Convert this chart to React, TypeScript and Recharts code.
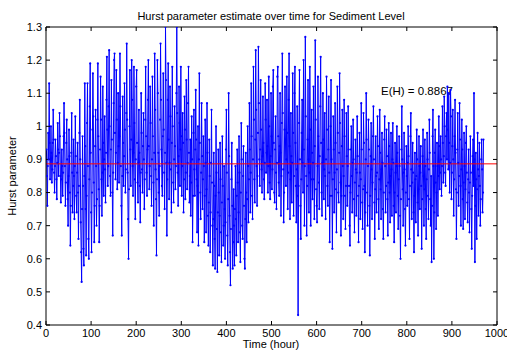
import { LineChart, Line, XAxis, YAxis, ReferenceLine } from 'recharts';

// Hurst estimate per hour (hours 1..970)
const hurst = [
  0.93, 0.85, 0.76, 0.88, 0.98, 0.90, 1.13, 0.95, 0.84, 0.90,
  1.00, 0.92, 0.83, 0.87, 0.95, 1.05, 0.96, 0.86, 0.80, 0.88,
  0.96, 0.91, 0.84, 0.78, 0.89, 1.01, 0.93, 0.85, 0.92, 1.04,
  0.97, 0.85, 0.77, 0.84, 0.93, 0.88, 0.79, 0.86, 0.97, 1.07,
  0.98, 0.88, 0.76, 0.83, 0.95, 1.02, 0.90, 0.78, 0.70, 0.85,
  0.99, 0.91, 0.80, 0.64, 0.76, 0.92, 1.04, 0.86, 0.74, 0.82,
  0.96, 0.85, 0.72, 0.88, 1.03, 0.91, 0.79, 0.74, 0.86, 0.95,
  0.80, 0.66, 0.82, 0.98, 1.08, 0.90, 0.71, 0.62, 0.53, 0.75,
  0.97, 0.82, 0.63, 0.58, 0.85, 1.13, 0.94, 0.75, 0.61, 0.79,
  1.01, 1.13, 0.88, 0.66, 0.60, 0.84, 1.06, 1.19, 0.92, 0.74,
  0.62, 0.80, 0.99, 1.16, 1.03, 0.83, 0.65, 0.76, 0.94, 1.05,
  0.88, 0.70, 0.78, 1.02, 1.19, 0.97, 0.81, 0.65, 0.76, 0.93,
  1.15, 1.02, 0.84, 0.73, 0.86, 1.12, 0.95, 0.79, 0.90, 1.03,
  0.87, 0.77, 0.92, 1.08, 1.21, 0.99, 0.82, 0.88, 1.06, 1.23,
  1.00, 0.85, 0.79, 0.93, 1.14, 0.96, 0.80, 0.67, 0.86, 1.07,
  1.20, 1.22, 0.98, 0.84, 0.92, 1.17, 1.02, 0.81, 0.89, 1.10,
  0.94, 0.83, 0.97, 1.22, 1.06, 0.88, 0.76, 0.67, 0.85, 1.09,
  0.95, 0.82, 0.91, 1.13, 0.99, 0.80, 0.87, 1.04, 1.25, 1.02,
  0.86, 0.72, 0.60, 0.81, 1.00, 1.17, 0.93, 0.82, 0.96, 1.20,
  1.08, 0.88, 0.79, 0.92, 1.18, 1.01, 0.84, 0.72, 0.90, 1.12,
  1.17, 0.95, 0.83, 0.77, 0.89, 1.05, 0.92, 0.82, 0.71, 0.86,
  1.10, 0.98, 0.87, 0.80, 0.94, 1.04, 0.90, 0.75, 0.84, 1.02,
  1.18, 0.97, 0.86, 0.79, 0.93, 1.08, 1.20, 0.94, 0.81, 0.88,
  1.12, 1.01, 0.85, 0.76, 0.90, 1.15, 0.97, 0.83, 0.70, 0.92,
  1.22, 1.05, 0.87, 0.78, 0.61, 0.84, 1.20, 1.10, 0.92, 0.80,
  0.73, 0.88, 1.02, 1.25, 1.08, 0.93, 0.82, 0.79, 0.97, 1.16,
  0.99, 0.86, 0.75, 0.92, 1.30, 1.14, 0.89, 0.67, 0.84, 1.08,
  1.19, 0.96, 0.78, 0.89, 1.12, 1.03, 0.87, 0.74, 0.95, 1.18,
  1.00, 0.83, 0.77, 0.90, 1.06, 0.94, 0.81, 0.88, 1.10, 1.30,
  1.04, 0.86, 0.76, 0.91, 1.12, 1.01, 0.82, 0.93, 1.18, 0.97,
  0.79, 0.88, 1.04, 0.95, 0.74, 0.84, 1.09, 0.99, 0.78, 0.86,
  1.14, 0.96, 0.81, 0.89, 1.07, 1.18, 0.92, 0.77, 0.85, 0.96,
  0.73, 0.83, 1.03, 0.90, 0.65, 0.79, 0.98, 1.05, 0.87, 0.79,
  0.93, 1.11, 0.96, 0.84, 0.68, 0.82, 1.00, 0.64, 0.90, 1.16,
  0.95, 0.80, 0.72, 0.86, 1.07, 0.91, 0.75, 0.84, 0.97, 0.88,
  0.65, 0.79, 1.02, 0.89, 0.68, 0.81, 1.07, 0.92, 0.73, 0.64,
  0.77, 0.96, 0.85, 0.62, 0.74, 0.89, 1.05, 0.83, 0.70, 0.58,
  0.72, 0.92, 0.82, 0.66, 0.57, 0.79, 1.00, 0.86, 0.69, 0.56,
  0.74, 0.93, 0.80, 0.61, 0.73, 0.95, 0.84, 0.68, 0.59, 0.77,
  0.97, 0.82, 0.64, 0.70, 0.88, 0.75, 0.60, 0.71, 0.93, 1.05,
  0.86, 0.67, 0.58, 0.78, 1.10, 0.91, 0.73, 0.62, 0.52, 0.69,
  0.84, 0.95, 0.76, 0.57, 0.65, 0.81, 0.70, 0.58, 0.75, 0.88,
  0.72, 0.61, 0.79, 0.93, 0.83, 0.65, 0.74, 0.97, 0.86, 0.68,
  0.59, 0.80, 1.01, 0.90, 0.70, 0.66, 0.85, 0.94, 0.76, 0.60,
  0.57, 0.72, 0.92, 0.80, 0.65, 0.78, 1.00, 0.88, 0.71, 0.84,
  1.07, 0.93, 0.74, 0.86, 1.13, 0.97, 0.79, 0.72, 0.90, 1.18,
  1.02, 0.84, 0.77, 0.96, 1.23, 1.05, 0.88, 0.76, 0.85, 0.98,
  1.24, 1.07, 0.90, 0.82, 0.93, 1.14, 0.99, 0.87, 0.80, 0.91,
  1.09, 0.95, 0.84, 0.78, 0.89, 1.13, 1.02, 0.86, 0.92, 1.08,
  0.94, 0.80, 0.88, 1.15, 1.00, 0.83, 0.78, 0.91, 1.10, 0.97,
  0.81, 0.87, 1.12, 1.17, 0.95, 0.80, 0.77, 0.93, 1.03, 0.86,
  0.75, 0.89, 1.15, 1.18, 0.97, 0.83, 0.79, 0.94, 1.10, 0.92,
  0.73, 0.85, 1.01, 1.22, 1.04, 0.87, 0.71, 0.80, 0.99, 1.12,
  0.96, 0.82, 0.90, 1.15, 0.98, 0.75, 0.86, 1.08, 1.22, 0.94,
  0.72, 0.84, 1.04, 0.91, 0.77, 0.89, 1.16, 0.98, 0.73, 0.85,
  1.10, 1.18, 0.95, 0.82, 0.71, 0.87, 1.06, 0.79, 0.43, 0.82,
  1.01, 1.17, 0.90, 0.76, 0.66, 0.84, 0.98, 1.08, 0.89, 0.80,
  1.20, 0.93, 0.70, 0.88, 1.27, 1.03, 0.85, 0.67, 0.82, 0.96,
  1.14, 0.90, 0.74, 0.86, 1.18, 0.99, 0.70, 0.84, 1.05, 0.92,
  0.78, 0.89, 1.12, 0.84, 0.72, 0.94, 1.26, 1.02, 0.81, 0.76,
  0.71, 0.88, 1.15, 0.97, 0.83, 0.75, 0.91, 1.06, 1.21, 0.95,
  0.80, 0.73, 0.89, 1.10, 0.96, 0.78, 0.87, 1.04, 0.85, 0.72,
  0.90, 1.15, 0.99, 0.82, 0.76, 0.93, 1.09, 0.86, 0.65, 0.79,
  1.00, 1.14, 0.90, 0.79, 0.63, 0.84, 1.03, 0.93, 0.74, 0.86,
  1.07, 0.95, 0.81, 0.68, 0.87, 1.12, 0.98, 0.80, 0.77, 0.92,
  1.16, 1.01, 0.83, 0.67, 0.79, 0.94, 1.05, 0.88, 0.72, 0.85,
  1.08, 0.97, 0.79, 0.69, 0.82, 1.04, 0.91, 0.76, 0.88, 1.06,
  0.93, 0.82, 0.70, 0.64, 0.80, 0.93, 1.00, 0.85, 0.74, 0.89,
  1.02, 0.90, 0.78, 0.68, 0.83, 0.96, 0.87, 0.73, 0.86, 1.03,
  0.91, 0.79, 0.65, 0.82, 0.98, 0.86, 0.72, 0.84, 1.07, 0.93,
  0.77, 0.69, 0.81, 1.04, 0.95, 0.82, 0.62, 0.74, 0.90, 1.10,
  0.96, 0.80, 0.70, 0.88, 1.02, 0.93, 0.76, 0.61, 0.79, 0.91,
  1.01, 0.87, 0.72, 0.83, 0.97, 1.06, 0.90, 0.77, 0.66, 0.81,
  0.97, 0.85, 0.74, 0.86, 1.03, 0.94, 0.78, 0.69, 0.84, 1.05,
  0.92, 0.81, 0.72, 0.87, 0.98, 0.89, 0.75, 0.66, 0.80, 0.96,
  1.03, 0.88, 0.74, 0.82, 0.99, 0.91, 0.78, 0.67, 0.83, 1.01,
  0.94, 0.80, 0.71, 0.85, 0.98, 0.87, 0.73, 0.90, 1.01, 0.89,
  0.76, 0.65, 0.80, 0.95, 0.86, 0.74, 0.88, 1.00, 0.92, 0.79,
  0.69, 0.84, 0.97, 0.88, 0.73, 0.60, 0.78, 0.93, 1.06, 0.90,
  0.81, 0.70, 0.86, 0.98, 0.87, 0.75, 0.64, 0.80, 0.94, 0.85,
  0.76, 0.89, 1.00, 0.91, 0.78, 0.66, 0.82, 0.97, 1.04, 0.87,
  0.72, 0.83, 0.95, 0.86, 0.74, 0.62, 0.79, 0.92, 0.84, 0.71,
  0.85, 0.99, 0.90, 0.77, 0.67, 0.81, 0.97, 0.88, 0.75, 0.86,
  0.94, 0.82, 0.63, 0.78, 0.91, 0.99, 0.85, 0.70, 0.81, 0.96,
  0.88, 0.75, 0.66, 0.84, 0.98, 0.90, 0.79, 0.72, 0.87, 1.02,
  0.92, 0.78, 0.70, 0.85, 0.59, 0.76, 0.97, 1.05, 0.88, 0.60,
  0.74, 0.92, 0.99, 0.83, 0.69, 0.80, 0.95, 0.88, 0.73, 0.85,
  1.03, 0.94, 0.81, 0.86, 0.97, 0.90, 0.79, 0.88, 1.06, 0.95,
  0.83, 0.91, 1.09, 1.00, 0.86, 0.82, 0.97, 1.04, 0.90, 1.12,
  0.99, 0.87, 1.10, 0.95, 0.80, 0.89, 1.11, 1.03, 0.78, 0.86,
  0.94, 1.05, 0.90, 0.73, 0.84, 0.97, 1.08, 0.92, 0.81, 0.66,
  0.80, 0.93, 1.04, 0.89, 0.76, 0.85, 1.07, 0.96, 0.82, 0.70,
  0.87, 1.02, 0.93, 0.78, 0.69, 0.83, 0.98, 0.88, 0.72, 0.81,
  0.95, 1.00, 0.86, 0.77, 0.71, 0.84, 0.93, 0.80, 0.68, 0.83,
  0.97, 0.86, 0.75, 0.63, 0.79, 0.91, 0.96, 0.82, 1.10, 0.90,
  0.59, 0.76, 0.92, 0.84, 0.66, 0.81, 0.98, 0.87, 0.73, 0.85,
  0.95, 0.82, 0.70, 0.78, 0.90, 0.96, 0.87, 0.74, 0.80, 0.96,
];

const meanHurst = 0.8867;
const firstHour = 1;
const xTicks = [0, 100, 200, 300, 400, 500, 600, 700, 800, 900, 1000];
const yTicks = [0.4, 0.5, 0.6, 0.7, 0.8, 0.9, 1.0, 1.1, 1.2, 1.3];

const data = hurst.map((h, i) => ({ hour: firstHour + i, h }));

const font = 'Liberation Sans, Arial, Helvetica, sans-serif';
const tickStyle = { fontSize: 11, fill: '#000', fontFamily: font };
const noLabel = () => '';

export default function App() {
  return (
    <div style={{ position: 'absolute', left: 0, top: 0, width: 507, height: 354, background: '#fff' }}>
      <LineChart width={507} height={354} data={data} margin={{ top: 26, right: 9, bottom: 0, left: 0 }}>
        <XAxis
          dataKey="hour" type="number" domain={[0, 1000]} ticks={xTicks} allowDataOverflow
          height={29} stroke="#000" tickSize={-4} tickMargin={8} tick={tickStyle} interval={0}
        />
        <XAxis
          xAxisId="top" orientation="top" dataKey="hour" type="number" domain={[0, 1000]} ticks={xTicks}
          allowDataOverflow height={1} stroke="#000" tickSize={-4} tickFormatter={noLabel} interval={0}
        />
        <YAxis
          domain={[0.4, 1.3]} ticks={yTicks} width={46} stroke="#000" tickSize={-4} tickMargin={8}
          tick={tickStyle} interval={0} tickFormatter={(v: number) => `${+v.toFixed(1)}`} allowDataOverflow
        />
        <YAxis
          yAxisId="right" orientation="right" domain={[0.4, 1.3]} ticks={yTicks} allowDataOverflow
          width={1} stroke="#000" tickSize={-4} tickFormatter={noLabel} interval={0}
        />
        <Line
          dataKey="h" stroke="#0000ff" strokeWidth={1} isAnimationActive={false}
          dot={{ r: 1.1, fill: '#0000ff', stroke: 'none' }}
        />
        <ReferenceLine y={meanHurst} stroke="#ff0000" strokeWidth={1} />
        <text x={271} y={20} textAnchor="middle" fontSize={11} fontFamily={font} fill="#000">
          Hurst parameter estimate over time for Sediment Level
        </text>
        <text x={381} y={95} fontSize={11.5} fontFamily={font} fill="#000">
          E(H) = {meanHurst}
        </text>
        <text x={271} y={348} textAnchor="middle" fontSize={11} fontFamily={font} fill="#000">
          Time (hour)
        </text>
        <text
          x={16} y={176} textAnchor="middle" fontSize={11} fontFamily={font} fill="#000"
          transform="rotate(-90 16 176)"
        >
          Hurst parameter
        </text>
      </LineChart>
    </div>
  );
}
